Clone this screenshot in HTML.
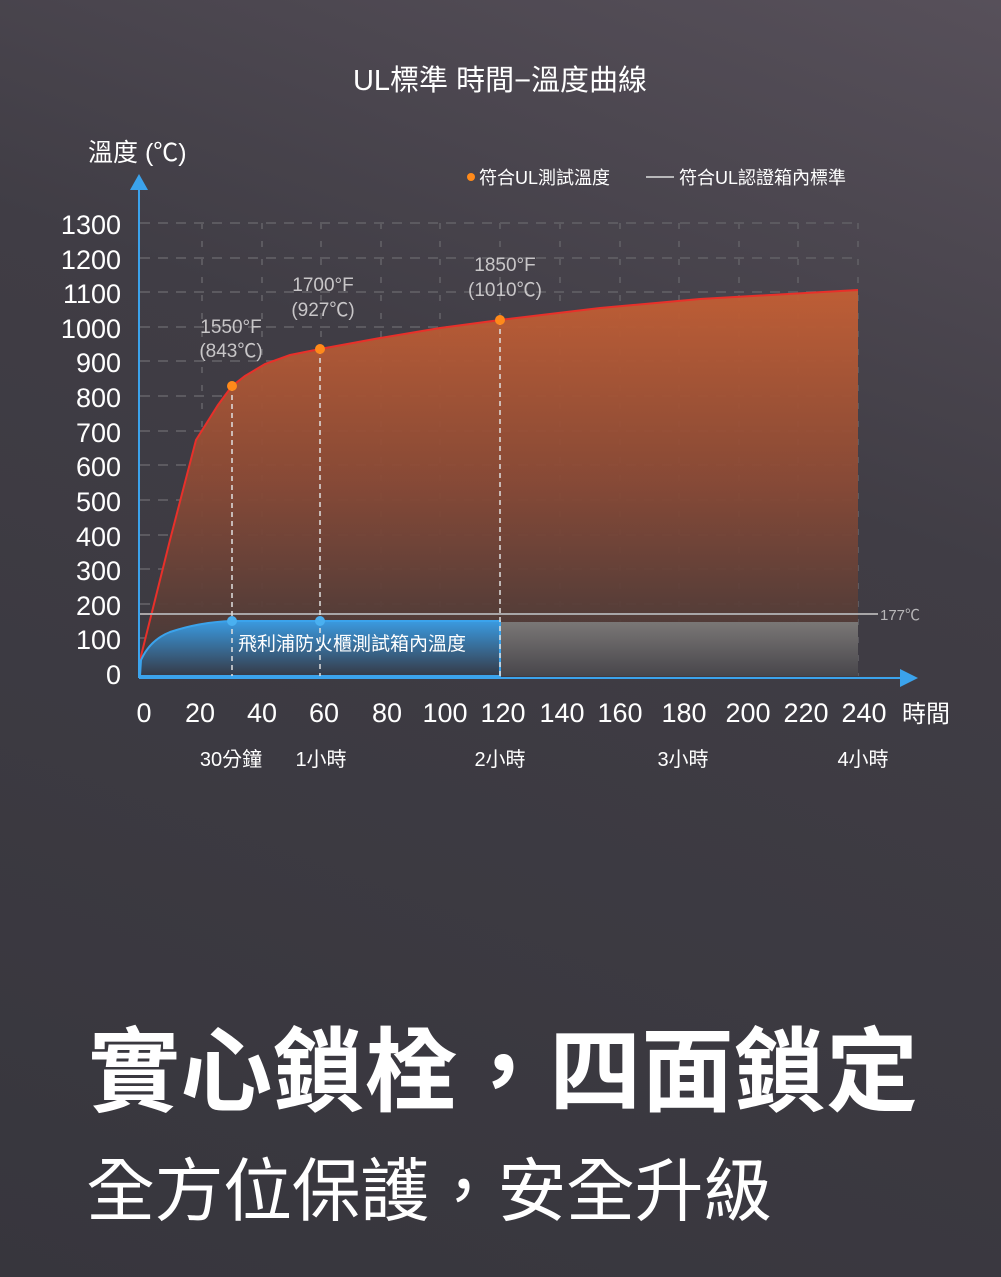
<!DOCTYPE html>
<html><head><meta charset="utf-8"><style>
html,body{margin:0;padding:0}
body{width:1001px;height:1277px;overflow:hidden;background:linear-gradient(200deg,#57505a 0%,#403d45 35%,#37363d 100%);font-family:"Liberation Sans","Noto Sans CJK TC",sans-serif;position:relative;color:#fff}
</style></head><body>
<svg width="1001" height="1277" style="position:absolute;left:0;top:0" font-family="Liberation Sans, Noto Sans CJK TC, sans-serif">
<defs>
<linearGradient id="og" x1="0" y1="0" x2="0" y2="1"><stop offset="0" stop-color="#c45f34"/><stop offset="0.5" stop-color="#8a4a36"/><stop offset="1" stop-color="#3e3739"/></linearGradient>
<linearGradient id="bg" x1="0" y1="0" x2="0" y2="1"><stop offset="0" stop-color="#3a9ae0"/><stop offset="1" stop-color="#363a46"/></linearGradient>
<linearGradient id="gg" x1="0" y1="0" x2="0" y2="1"><stop offset="0" stop-color="#7a7776"/><stop offset="1" stop-color="#48464b"/></linearGradient>
</defs>
<g stroke="#5c5a60" stroke-width="2" stroke-dasharray="10,8">
<line x1="140" y1="223" x2="858" y2="223"/><line x1="140" y1="258" x2="858" y2="258"/><line x1="140" y1="292" x2="858" y2="292"/><line x1="140" y1="327" x2="858" y2="327"/><line x1="140" y1="361" x2="858" y2="361"/><line x1="140" y1="396" x2="858" y2="396"/><line x1="140" y1="431" x2="858" y2="431"/><line x1="140" y1="465" x2="858" y2="465"/><line x1="140" y1="500" x2="858" y2="500"/><line x1="140" y1="535" x2="858" y2="535"/><line x1="140" y1="569" x2="858" y2="569"/><line x1="140" y1="604" x2="858" y2="604"/><line x1="140" y1="638" x2="858" y2="638"/>
</g>
<g stroke="#5c5a60" stroke-width="2" stroke-dasharray="6,12">
<line x1="202" y1="223" x2="202" y2="676"/><line x1="262" y1="223" x2="262" y2="676"/><line x1="321" y1="223" x2="321" y2="676"/><line x1="381" y1="223" x2="381" y2="676"/><line x1="440" y1="223" x2="440" y2="676"/><line x1="500" y1="223" x2="500" y2="676"/><line x1="560" y1="223" x2="560" y2="676"/><line x1="620" y1="223" x2="620" y2="676"/><line x1="679" y1="223" x2="679" y2="676"/><line x1="739" y1="223" x2="739" y2="676"/><line x1="798" y1="223" x2="798" y2="676"/><line x1="858" y1="223" x2="858" y2="676"/>
</g>
<path d="M140,660 L170,540 L196,440 L218,405 L232,386 L245,376 L265,364 L290,355 L320,349 L380,338 L440,328 L500,320 L600,308 L700,299 L858,290 L858,676 L140,676Z" fill="url(#og)" opacity="0.95"/>
<path d="M140,660 L170,540 L196,440 L218,405 L232,386 L245,376 L265,364 L290,355 L320,349 L380,338 L440,328 L500,320 L600,308 L700,299 L858,290" fill="none" stroke="#e8302a" stroke-width="2"/>
<rect x="500" y="622" width="358" height="54" fill="url(#gg)"/>
<path d="M140,676 L141,660 Q150,640 170,632 Q200,622 232,621 L500,621 L500,676Z" fill="url(#bg)" stroke="#3ba3ec" stroke-width="2"/>
<line x1="140" y1="614" x2="878" y2="614" stroke="#a8a6a8" stroke-width="2"/>
<text x="880" y="620" fill="#b8b6b8" font-size="15">177℃</text>
<g stroke="#e0e0e0" stroke-width="1.5" stroke-dasharray="5,4"><line x1="232" y1="386" x2="232" y2="676"/><line x1="320" y1="349" x2="320" y2="676"/><line x1="500" y1="320" x2="500" y2="676"/></g>
<g fill="#ff8a1a"><circle cx="232" cy="386" r="5"/><circle cx="320" cy="349" r="5"/><circle cx="500" cy="320" r="5"/></g>
<g fill="#4ab0f0"><circle cx="232" cy="621" r="5"/><circle cx="320" cy="621" r="5"/></g>
<line x1="139" y1="186" x2="139" y2="678" stroke="#3ba3ec" stroke-width="2"/>
<polygon points="139,174 130,190 148,190" fill="#3ba3ec"/>
<line x1="139" y1="678" x2="905" y2="678" stroke="#3ba3ec" stroke-width="2"/>
<polygon points="918,678 900,669 900,687" fill="#3ba3ec"/>
<g fill="#fff" font-size="27" text-anchor="end">
<text x="121" y="234">1300</text><text x="121" y="269">1200</text><text x="121" y="303">1100</text><text x="121" y="338">1000</text><text x="121" y="372">900</text><text x="121" y="407">800</text><text x="121" y="442">700</text><text x="121" y="476">600</text><text x="121" y="511">500</text><text x="121" y="546">400</text><text x="121" y="580">300</text><text x="121" y="615">200</text><text x="121" y="649">100</text><text x="121" y="684">0</text>
</g>
<g fill="#fff" font-size="27" text-anchor="middle">
<text x="144" y="722">0</text><text x="200" y="722">20</text><text x="262" y="722">40</text><text x="324" y="722">60</text><text x="387" y="722">80</text><text x="445" y="722">100</text><text x="503" y="722">120</text><text x="562" y="722">140</text><text x="620" y="722">160</text><text x="684" y="722">180</text><text x="748" y="722">200</text><text x="806" y="722">220</text><text x="864" y="722">240</text>
</g>
<text x="902" y="722" fill="#fff" font-size="24">時間</text>
<g fill="#fff" font-size="20" text-anchor="middle"><text x="231" y="766">30分鐘</text><text x="321" y="766">1小時</text><text x="500" y="766">2小時</text><text x="683" y="766">3小時</text><text x="863" y="766">4小時</text></g>
<g fill="#c8c6c8" font-size="19" text-anchor="middle">
<text x="231" y="333">1550°F</text><text x="231" y="357">(843℃)</text>
<text x="323" y="291">1700°F</text><text x="323" y="316">(927℃)</text>
<text x="505" y="271">1850°F</text><text x="505" y="296">(1010℃)</text>
</g>
<text x="238" y="650" fill="#fff" font-size="19">飛利浦防火櫃測試箱內溫度</text>
<circle cx="471" cy="177" r="4" fill="#ff8a1a"/>
<text x="479" y="184" fill="#fff" font-size="18">符合UL測試溫度</text>
<line x1="646" y1="177" x2="674" y2="177" stroke="#ddd" stroke-width="1.5"/>
<text x="679" y="184" fill="#fff" font-size="18">符合UL認證箱內標準</text>
<text x="500" y="90" fill="#fff" font-size="29" text-anchor="middle">UL標準 時間−溫度曲線</text>
<text x="88" y="161" fill="#fff" font-size="25">溫度 (℃)</text>
<text x="88" y="1104" fill="#fff" font-size="92" font-weight="bold" textLength="830" lengthAdjust="spacing">實心鎖栓，四面鎖定</text>
<text x="86" y="1215" fill="#fff" font-size="69" textLength="686" lengthAdjust="spacing">全方位保護，安全升級</text>
</svg>
</body></html>
